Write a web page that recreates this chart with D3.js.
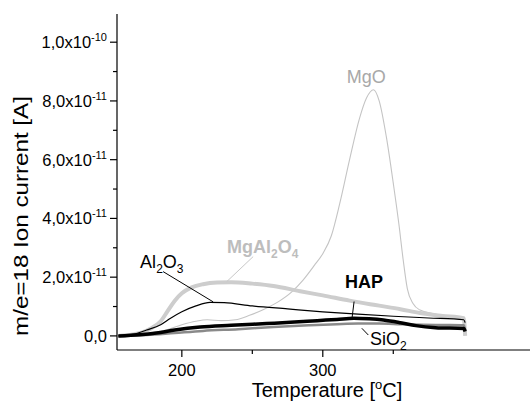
<!DOCTYPE html>
<html>
<head>
<meta charset="utf-8">
<script src="https://cdn.jsdelivr.net/npm/d3@7"></script>
<style>
  body { margin: 0; background: #fff; }
  svg { display: block; font-family: "Liberation Sans", Arial, sans-serif; }
</style>
</head>
<body>
<svg id="chart" width="530" height="411"></svg>
<script>
// ion current values are in units of 1e-11 A
var mgoT = [155, 175, 190, 200, 210, 218, 228, 238, 248, 258, 268, 278, 286, 294, 300, 306, 312, 319, 326, 331, 336, 340, 345, 350, 354, 357, 360, 364, 369, 378, 390, 400];
var mgoV = [0, 0.08, 0.22, 0.38, 0.5, 0.55, 0.52, 0.55, 0.7, 0.9, 1.15, 1.5, 1.9, 2.4, 2.8, 3.4, 4.5, 6.0, 7.4, 8.1, 8.38, 8.0, 6.8, 5.2, 3.8, 2.6, 1.6, 1.1, 0.88, 0.76, 0.66, 0.6];

var spinelT = [155, 165, 172, 178, 185, 190, 195, 200, 207, 215, 225, 235, 250, 265, 284, 300, 319, 340, 355, 369, 385, 400, 401];
var spinelV = [0, 0.05, 0.12, 0.25, 0.5, 0.85, 1.2, 1.45, 1.65, 1.76, 1.82, 1.83, 1.78, 1.7, 1.52, 1.38, 1.2, 1.03, 0.91, 0.78, 0.68, 0.6, 0];

var aluminaT = [155, 165, 175, 185, 192, 200, 210, 220, 230, 250, 275, 300, 325, 350, 375, 400, 401];
var aluminaV = [0, 0.05, 0.2, 0.38, 0.6, 0.82, 1.02, 1.14, 1.13, 1.02, 0.92, 0.82, 0.74, 0.67, 0.61, 0.55, 0.45];

var hapT = [155, 170, 182, 195, 213, 235, 260, 280, 296, 310, 322, 333, 343, 355, 366, 380, 400, 401];
var hapV = [0, 0.04, 0.1, 0.2, 0.3, 0.36, 0.42, 0.47, 0.52, 0.56, 0.6, 0.58, 0.54, 0.45, 0.35, 0.28, 0.25, 0.15];

var silicaT = [155, 175, 195, 215, 240, 265, 290, 310, 325, 340, 355, 370, 385, 400, 401];
var silicaV = [0, 0.03, 0.1, 0.17, 0.23, 0.3, 0.36, 0.4, 0.42, 0.42, 0.4, 0.38, 0.37, 0.36, 0.2];

var xMajor = [200, 300];
var xMinor = [250, 350];
var yMajor = [0, 2, 4, 6, 8, 10];
var yMinor = [1, 3, 5, 7, 9];
var yLabels = ["0,0", "2,0x10", "4,0x10", "6,0x10", "8,0x10", "1,0x10"];
var yExps = ["", "-11", "-11", "-11", "-11", "-10"];

var svg = d3.select("#chart");
var x = d3.scaleLinear().domain([154, 447]).range([117, 530]);
var y = d3.scaleLinear().domain([-0.48, 10.96]).range([350, 14]);

function pts(ts, vs) {
  return ts.map(function(t, i) { return [t, vs[i]]; });
}

var series = [
  { data: pts(mgoT, mgoV), color: "#c4c4c4", width: 1.1 },
  { data: pts(spinelT, spinelV), color: "#cdcdcd", width: 4 },
  { data: pts(silicaT, silicaV), color: "#8a8a8a", width: 2.5 },
  { data: pts(aluminaT, aluminaV), color: "#000", width: 1.2 },
  { data: pts(hapT, hapV), color: "#000", width: 3.5 }
];

var line = d3.line()
  .x(function(d) { return x(d[0]); })
  .y(function(d) { return y(d[1]); })
  .curve(d3.curveMonotoneX);

svg.append("g").selectAll("path")
  .data(series)
  .enter().append("path")
  .attr("d", function(s) { return line(s.data); })
  .attr("fill", "none")
  .attr("stroke", function(s) { return s.color; })
  .attr("stroke-width", function(s) { return s.width; })
  .attr("stroke-linejoin", "round");

// axes, drawn by hand to get Origin-like ticks
var ax = svg.append("g").attr("stroke", "#000").attr("stroke-width", 1.2);
ax.append("line").attr("x1", x.range()[0]).attr("x2", x.range()[1])
  .attr("y1", y.range()[0]).attr("y2", y.range()[0]);
ax.append("line").attr("x1", x.range()[0]).attr("x2", x.range()[0])
  .attr("y1", y.range()[0]).attr("y2", y.range()[1]);

ax.selectAll(".xt").data(xMajor.concat(xMinor)).enter().append("line")
  .attr("x1", function(d) { return x(d); }).attr("x2", function(d) { return x(d); })
  .attr("y1", y.range()[0])
  .attr("y2", function(d) { return y.range()[0] + (xMajor.indexOf(d) >= 0 ? 7 : 4); });

ax.selectAll(".yt").data(yMajor.concat(yMinor)).enter().append("line")
  .attr("y1", function(d) { return y(d); }).attr("y2", function(d) { return y(d); })
  .attr("x1", x.range()[0])
  .attr("x2", function(d) { return x.range()[0] - (yMajor.indexOf(d) >= 0 ? 7 : 4); });

svg.selectAll(".xl").data(xMajor).enter().append("text")
  .attr("x", function(d) { return x(d); })
  .attr("y", y.range()[0] + 26)
  .attr("text-anchor", "middle")
  .attr("font-size", 16.5)
  .text(function(d) { return d; });

var yl = svg.selectAll(".yl").data(yMajor).enter().append("text")
  .attr("x", x.range()[0] - 10)
  .attr("y", function(d) { return y(d) + 6; })
  .attr("text-anchor", "end")
  .attr("font-size", 16.5);
yl.append("tspan").text(function(d, i) { return yLabels[i]; });
yl.append("tspan").attr("dy", -7).attr("font-size", 11)
  .text(function(d, i) { return yExps[i]; });

var xt = svg.append("text").attr("x", 327).attr("y", 397)
  .attr("text-anchor", "middle").attr("font-size", 20);
xt.append("tspan").text("Temperature [");
xt.append("tspan").attr("dy", -8).attr("font-size", 13).text("o");
xt.append("tspan").attr("dy", 8).text("C]");

// the reference title is stretched along its length
svg.append("text")
  .attr("transform", "translate(28,216) rotate(-90) scale(1.18,1)")
  .attr("text-anchor", "middle").attr("font-size", 20.5)
  .text("m/e=18 Ion current [A]");

// labels and leader lines, in data coordinates
var notes = [
  { parts: [["MgO", 0]], t: 317, v: 8.61, color: "#a8a8a8", bold: false },
  { parts: [["MgAl", 0], ["2", 1], ["O", 0], ["4", 1]], t: 232, v: 2.83, color: "#bdbdbd", bold: true,
    lead: [[231.9, 1.85], [250.6, 2.7]] },
  { parts: [["Al", 0], ["2", 1], ["O", 0], ["3", 1]], t: 170.4, v: 2.32, color: "#000", bold: false,
    lead: [[186.7, 2.19], [222.2, 1.16]] },
  { parts: [["HAP", 0]], t: 315.8, v: 1.63, color: "#000", bold: true,
    lead: [[322.2, 1.17], [320.6, 0.55]] },
  { parts: [["SiO", 0], ["2", 1]], t: 333.5, v: -0.31, color: "#000", bold: false,
    lead: [[327.7, 0.26], [332.3, 0.03]] }
];

notes.forEach(function(n) {
  if (n.lead) {
    svg.append("line")
      .attr("x1", x(n.lead[0][0])).attr("y1", y(n.lead[0][1]))
      .attr("x2", x(n.lead[1][0])).attr("y2", y(n.lead[1][1]))
      .attr("stroke", n.color == "#000" ? "#000" : "#c8c8c8")
      .attr("stroke-width", 1);
  }
  var t = svg.append("text")
    .attr("x", x(n.t)).attr("y", y(n.v))
    .attr("font-size", 18)
    .attr("font-weight", n.bold ? "bold" : "normal")
    .attr("fill", n.color);
  var low = 0;
  n.parts.forEach(function(p) {
    var dy = p[1] ? 5 - low : -low;
    low = p[1] ? 5 : 0;
    t.append("tspan").attr("dy", dy)
      .attr("font-size", p[1] ? 12 : 18)
      .text(p[0]);
  });
});
</script>
</body>
</html>
